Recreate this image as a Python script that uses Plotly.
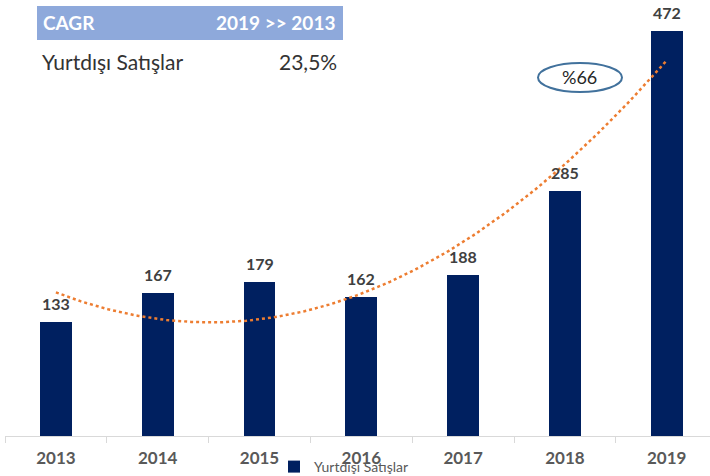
import numpy as np
import plotly.graph_objects as go

years = ["2013", "2014", "2015", "2016", "2017", "2018", "2019"]
sales = [133, 167, 179, 162, 188, 285, 472]
series_name = "Yurtdışı Satışlar"
cagr_header = ["CAGR", "2019 >> 2013"]
cagr_row = ["Yurtdışı Satışlar", "23,5%"]
bubble_text = "%66"

W, H = 710, 476
ML, MR, MT, MB = 5, 0, 0, 40
PW, PH = W - ML - MR, H - MT - MB
FONT = "Lato"

def px(x):
    return (x - ML) / PW

def py(y):
    return (MT + PH - y) / PH

xs = list(range(len(years)))
coef = np.polyfit(xs, sales, 2)
tx = np.linspace(0, len(years) - 1, 200)
ty = np.polyval(coef, tx)

fig = go.Figure()
fig.add_trace(go.Bar(
    x=xs, y=sales, name=series_name, width=0.314,
    marker=dict(color="#002060", line=dict(width=0)),
    showlegend=True,
))
fig.add_trace(go.Scatter(
    x=tx, y=ty, mode="lines", showlegend=False, hoverinfo="skip",
    line=dict(color="#ED7D31", width=2.5, dash="dot"),
))

for i, v in enumerate(sales):
    fig.add_annotation(x=i, y=v, text=f"<b>{v}</b>", showarrow=False,
                       yanchor="bottom", yshift=7,
                       font=dict(family=FONT, size=16, color="#404040"))

# CAGR table
fig.add_shape(type="rect", xref="paper", yref="paper",
              x0=px(37), x1=px(343), y0=py(40), y1=py(6),
              fillcolor="#8EA9DB", line=dict(width=0), layer="above")
fig.add_annotation(xref="paper", yref="paper", x=px(41), y=py(23),
                   xanchor="left", yanchor="middle", showarrow=False,
                   text=f"<b>{cagr_header[0]}</b>",
                   font=dict(family=FONT, size=19, color="white"))
fig.add_annotation(xref="paper", yref="paper", x=px(337), y=py(23),
                   xanchor="right", yanchor="middle", showarrow=False,
                   text=f"<b>{cagr_header[1]}</b>",
                   font=dict(family=FONT, size=19, color="white"))
fig.add_annotation(xref="paper", yref="paper", x=px(40), y=py(61),
                   xanchor="left", yanchor="middle", showarrow=False,
                   text=cagr_row[0],
                   font=dict(family=FONT, size=21, color="#333333"))
fig.add_annotation(xref="paper", yref="paper", x=px(339), y=py(61),
                   xanchor="right", yanchor="middle", showarrow=False,
                   text=cagr_row[1],
                   font=dict(family=FONT, size=21, color="#333333"))

# bubble
fig.add_shape(type="circle", xref="paper", yref="paper",
              x0=px(538), x1=px(622), y0=py(92), y1=py(63),
              line=dict(color="#41719C", width=2), fillcolor="rgba(0,0,0,0)")
fig.add_annotation(xref="paper", yref="paper", x=px(579), y=py(77),
                   xanchor="center", yanchor="middle", showarrow=False,
                   text=bubble_text,
                   font=dict(family=FONT, size=18, color="#262626"))

fig.update_layout(
    width=W, height=H,
    margin=dict(l=ML, r=MR, t=MT, b=MB, pad=0, autoexpand=False),
    paper_bgcolor="white", plot_bgcolor="white",
    font=dict(family=FONT),
    bargap=0,
    legend=dict(orientation="h", x=px(274), y=py(467), xanchor="left",
                yanchor="middle", bgcolor="rgba(0,0,0,0)",
                font=dict(family=FONT, size=14, color="#595959"),
                itemwidth=30),
    xaxis=dict(
        range=[-0.5, -0.5 + PW / 101.8],
        tickmode="array", tickvals=xs,
        ticktext=[f"<b>{y}</b>" for y in years],
        ticks="", showgrid=False, zeroline=False,
        showline=True, linecolor="#D9D9D9", linewidth=1,
        tickfont=dict(family=FONT, size=17, color="#595959"),
        ticklabelstandoff=7,
        automargin=False,
        minor=dict(tickmode="linear", tick0=-0.5, dtick=1, ticks="outside",
                   ticklen=6, tickcolor="#D9D9D9", tickwidth=1, showgrid=False),
        fixedrange=True,
    ),
    yaxis=dict(range=[0, 508], visible=False, fixedrange=True, automargin=False),
)

fig.write_html("out.html", config={"displayModeBar": False},
               post_script="document.body.style.margin='0px';document.body.style.padding='0px';")
